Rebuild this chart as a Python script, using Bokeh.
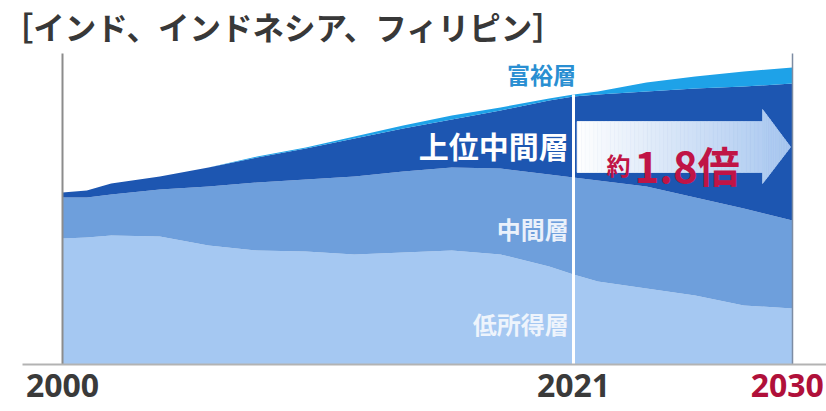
import numpy as np
from bokeh.plotting import figure
from bokeh.models import ColumnDataSource, FixedTicker, LinearAxis, Range1d
from bokeh.core.properties import value
from bokeh.embed import file_html
from bokeh.resources import INLINE

# ---- data (arbitrary population units) ----
years = [2000, 2001, 2002, 2004, 2006, 2008, 2010, 2012, 2014, 2016, 2018,
         2020, 2021, 2022, 2024, 2026, 2028, 2030]
low_income = [126, 127, 129, 128, 119, 114, 113, 110, 112, 114, 110,
              98, 90, 83, 76, 69, 59, 56]
middle = [41, 40, 41, 47, 59, 68, 72, 78, 81, 83, 86,
          92, 97, 101, 102, 98, 97, 88]
upper_middle = [5, 7, 11, 13, 19, 25, 31, 38, 43, 48, 58,
                74, 81, 86, 95, 109, 122, 137]
affluent = [0, 0, 0, 0, 0, 1, 1, 2, 3, 4, 3,
            2, 2, 3, 9, 12, 15, 16]

layer_names = ["低所得層", "中間層", "上位中間層", "富裕層"]
layer_colors = ["#a5c8f2", "#6e9fdc", "#1d56b1", "#1ea2e8"]
tick_years = [2000, 2021]
forecast_year = 2030
split_year = 2021
title_text = "［インド、インドネシア、フィリピン］"
growth_prefix = "約"
growth_value = "1.8倍"

JP = value("Noto Sans CJK JP")

src = ColumnDataSource(dict(year=years, low=low_income, mid=middle,
                            upper=upper_middle, rich=affluent))

p = figure(width=826, height=411,
           x_range=Range1d(1997.452, 2031.397), y_range=Range1d(-47, 364),
           output_backend="svg", toolbar_location=None, min_border=0,
           x_axis_location=None, y_axis_location=None)
p.outline_line_color = None
p.grid.visible = False
p.background_fill_color = "white"
p.border_fill_color = "white"

p.varea_stack(["low", "mid", "upper", "rich"], x="year", source=src,
              color=layer_colors)

# frame lines
p.segment(x0=[2000], y0=[0], x1=[2000], y1=[311], line_color="#8c8c8c", line_width=2)
p.segment(x0=[forecast_year], y0=[0], x1=[forecast_year], y1=[311],
          line_color="#7d8ca3", line_width=1.5)
idx = years.index(split_year)
total_split = low_income[idx] + middle[idx] + upper_middle[idx] + affluent[idx]
p.segment(x0=[split_year], y0=[0], x1=[split_year], y1=[total_split],
          line_color="white", line_width=3)
p.segment(x0=[1998.356], y0=[0], x1=[2031.4], y1=[0], line_color="#b3b3b3", line_width=2)

# gradient arrow (style geometry)
a0, hb, tip = split_year + 0.15, 2028.77, 2029.92
bt, bb, ht, hbt, mid_y = 243, 192, 255, 181, 217.5
edges = np.concatenate([np.linspace(a0, hb, 46), np.linspace(hb, tip, 16)[1:]])
xs, ys, cols = [], [], []
c0 = np.array([255, 255, 255]); c1 = np.array([168, 199, 240])
ft = lambda x: ht + (mid_y - ht) * (x - hb) / (tip - hb)
fb = lambda x: hbt + (mid_y - hbt) * (x - hb) / (tip - hb)
for a, b in zip(edges[:-1], edges[1:]):
    if b <= hb + 1e-9:
        xs.append([a, b, b, a]); ys.append([bt, bt, bb, bb])
    else:
        xs.append([a, b, b, a]); ys.append([ft(a), ft(b), fb(b), fb(a)])
    t = ((a + b) / 2 - a0) / (tip - a0)
    c = (c0 + (c1 - c0) * t).astype(int)
    cols.append("#%02x%02x%02x" % tuple(c))
p.patches(xs, ys, fill_color=cols, line_color=cols, line_width=0.8)

# layer labels
p.text(x=[2021.1], y=[291], text=[layer_names[3]], text_font=JP, text_font_style="bold",
       text_font_size="23px", text_color="#2a8fd2", text_align="right", text_baseline="middle")
p.text(x=[2020.8], y=[220], text=[layer_names[2]], text_font=JP, text_font_style="bold",
       text_font_size="30px", text_color="white", text_align="right", text_baseline="middle")
p.text(x=[2020.8], y=[136], text=[layer_names[1]], text_font=JP, text_font_style="bold",
       text_font_size="24px", text_color="#eaf1fb", text_align="right", text_baseline="middle")
p.text(x=[2020.8], y=[41], text=[layer_names[0]], text_font=JP, text_font_style="bold",
       text_font_size="24px", text_color="#eef4fc", text_align="right", text_baseline="middle")

# growth label
p.text(x=[2022.36], y=[200], text=[growth_prefix], text_font=JP, text_font_style="bold",
       text_font_size="24px", text_color="#c01446", text_align="left", text_baseline="alphabetic")
p.text(x=[2023.51], y=[200], text=[growth_value], text_font=JP, text_font_style="bold",
       text_font_size="42px", text_color="#c01446", text_align="left", text_baseline="alphabetic")

# title
p.text(x=[1997.50], y=[339], text=[title_text], text_font=JP, text_font_style="bold",
       text_font_size="31.5px", text_color="#383838", text_align="left", text_baseline="middle")

# x axes (fixed at the baseline)
def make_axis(ticks, color):
    ax = LinearAxis(fixed_location=0, ticker=FixedTicker(ticks=ticks))
    ax.axis_line_color = None
    ax.major_tick_line_color = None
    ax.minor_tick_line_color = None
    ax.major_label_text_font = "Open Sans"
    ax.major_label_text_font_style = "bold"
    ax.major_label_text_font_size = "32px"
    ax.major_label_text_color = color
    ax.major_label_standoff = 3
    return ax

p.add_layout(make_axis(tick_years, "#3a3a3a"), "below")
p.add_layout(make_axis([forecast_year], "#b0103a"), "below")

open("out.html", "w").write(file_html(p, INLINE))
